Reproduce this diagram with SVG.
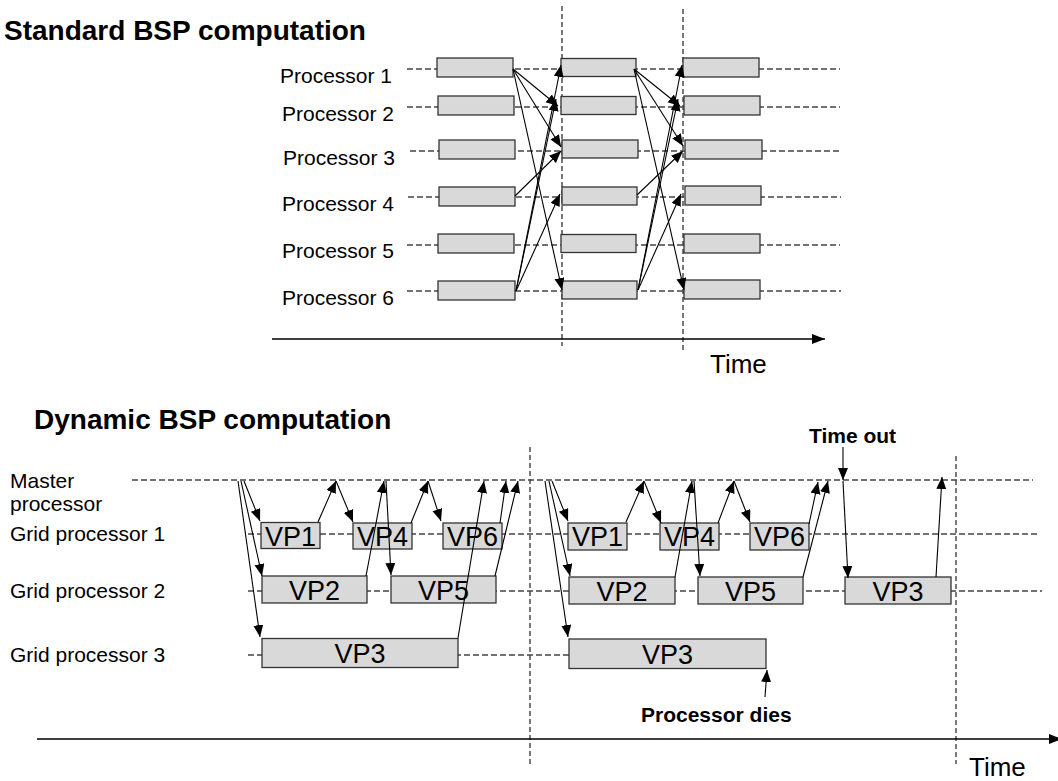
<svg xmlns="http://www.w3.org/2000/svg" width="1058" height="781" viewBox="0 0 1058 781">
  <style>
    .title { font-family: "Liberation Sans", Arial, sans-serif; font-weight: bold; font-size: 28px; fill: #000; }
    .lbl { font-family: "Liberation Sans", Arial, sans-serif; font-size: 21px; fill: #000; }
    .note { font-family: "Liberation Sans", Arial, sans-serif; font-weight: bold; font-size: 21px; fill: #000; }
    .time { font-family: "Liberation Sans", Arial, sans-serif; font-size: 26px; fill: #000; }
    .vp { font-family: "Liberation Sans", Arial, sans-serif; font-size: 27px; fill: #000; text-anchor: middle; }
    .box { fill: #d9d9d9; stroke: #333; stroke-width: 1.3; }
    .row { stroke: #444; stroke-width: 1.3; stroke-dasharray: 6 3; fill: none; }
    .sync { stroke: #222; stroke-width: 1.2; stroke-dasharray: 5 3; fill: none; }
    .msg { stroke: #000; stroke-width: 1.1; fill: none; marker-end: url(#tip); }
    .axis { stroke: #000; stroke-width: 1.3; fill: none; marker-end: url(#tipBig); }
  </style>
  <defs>
    <marker id="tip" markerUnits="userSpaceOnUse" markerWidth="13" markerHeight="11" refX="12" refY="5" orient="auto">
      <path d="M0,0 L12,5 L0,10 z" fill="#000"/>
    </marker>
    <marker id="tipBig" markerUnits="userSpaceOnUse" markerWidth="14" markerHeight="12" refX="13" refY="5" orient="auto">
      <path d="M0,0 L13,5 L0,10 z" fill="#000"/>
    </marker>
  </defs>
  <rect width="1058" height="781" fill="#fff"/>

  <!-- ===== Standard BSP ===== -->
  <text class="title" x="4" y="40">Standard BSP computation</text>

  <!-- superstep barriers and time axis -->
  <g id="std-frame">
    <line class="sync" x1="562" y1="6" x2="562" y2="346"/>
    <line class="sync" x1="683" y1="9" x2="683" y2="350"/>
    <line class="axis" x1="272" y1="339" x2="825" y2="339"/>
    <text class="time" x="710" y="373">Time</text>
  </g>

  <!-- processor timelines -->
  <g id="p1">
    <line class="row" x1="407" y1="69" x2="840" y2="69"/>
    <text class="lbl" x="280" y="83">Processor 1</text>
    <rect class="box" x="437" y="58" width="76" height="19"/>
    <rect class="box" x="561" y="58.5" width="75" height="18"/>
    <rect class="box" x="683" y="58" width="76" height="19"/>
  </g>
  <g id="p2">
    <line class="row" x1="407" y1="107" x2="840" y2="107"/>
    <text class="lbl" x="282" y="121">Processor 2</text>
    <rect class="box" x="438" y="96" width="76" height="19"/>
    <rect class="box" x="561" y="96.5" width="75" height="18"/>
    <rect class="box" x="684" y="96" width="76" height="19"/>
  </g>
  <g id="p3">
    <line class="row" x1="410" y1="151" x2="840" y2="151"/>
    <text class="lbl" x="283" y="165">Processor 3</text>
    <rect class="box" x="439" y="140" width="76" height="19"/>
    <rect class="box" x="562" y="140" width="76" height="18"/>
    <rect class="box" x="685" y="140" width="77" height="19"/>
  </g>
  <g id="p4">
    <line class="row" x1="408" y1="197" x2="841" y2="197"/>
    <text class="lbl" x="282" y="211">Processor 4</text>
    <rect class="box" x="439" y="187" width="76" height="19"/>
    <rect class="box" x="562" y="187" width="75" height="18"/>
    <rect class="box" x="685" y="186" width="76" height="19"/>
  </g>
  <g id="p5">
    <line class="row" x1="407" y1="245" x2="840" y2="245"/>
    <text class="lbl" x="282" y="258">Processor 5</text>
    <rect class="box" x="438" y="234" width="76" height="19"/>
    <rect class="box" x="561" y="234.5" width="75" height="18"/>
    <rect class="box" x="684" y="234" width="76" height="19"/>
  </g>
  <g id="p6">
    <line class="row" x1="407" y1="291" x2="841" y2="291"/>
    <text class="lbl" x="282" y="305">Processor 6</text>
    <rect class="box" x="438" y="281" width="77" height="19"/>
    <rect class="box" x="562" y="281" width="75" height="18"/>
    <rect class="box" x="684" y="280" width="76" height="19"/>
  </g>

  <!-- ===== Dynamic BSP ===== -->
  <text class="title" x="34" y="429">Dynamic BSP computation</text>

  <g id="dyn-frame">
    <line class="sync" x1="530" y1="447" x2="530" y2="765"/>
    <line class="sync" x1="956" y1="456" x2="956" y2="764"/>
    <line class="axis" x1="37" y1="739" x2="1062" y2="739"/>
    <text class="time" x="969" y="776">Time</text>
  </g>

  <g id="master">
    <line class="row" x1="132" y1="480" x2="1033" y2="480"/>
    <text class="lbl" x="10" y="488">Master</text>
    <text class="lbl" x="10" y="511">processor</text>
  </g>
  <g id="grid1">
    <line class="row" x1="248" y1="534" x2="1040" y2="534"/>
    <text class="lbl" x="10" y="541">Grid processor 1</text>
    <rect class="box" x="261" y="522.5" width="59" height="26"/>
    <text class="vp" x="290.5" y="545.5">VP1</text>
    <rect class="box" x="353" y="523" width="59" height="26"/>
    <text class="vp" x="382.5" y="545.5">VP4</text>
    <rect class="box" x="443" y="523" width="59" height="26"/>
    <text class="vp" x="472.5" y="545.5">VP6</text>
    <rect class="box" x="568" y="523" width="59" height="27"/>
    <text class="vp" x="597.5" y="546">VP1</text>
    <rect class="box" x="660" y="523" width="59" height="27"/>
    <text class="vp" x="689.5" y="546">VP4</text>
    <rect class="box" x="750" y="523" width="59" height="27"/>
    <text class="vp" x="779.5" y="546">VP6</text>
  </g>
  <g id="grid2">
    <line class="row" x1="248" y1="591" x2="1042" y2="591"/>
    <text class="lbl" x="10" y="598">Grid processor 2</text>
    <rect class="box" x="262" y="576" width="105" height="27"/>
    <text class="vp" x="314.5" y="599.5">VP2</text>
    <rect class="box" x="391" y="576" width="105" height="27"/>
    <text class="vp" x="443.5" y="599.5">VP5</text>
    <rect class="box" x="569" y="577" width="106" height="27"/>
    <text class="vp" x="622" y="600.5">VP2</text>
    <rect class="box" x="698" y="577" width="105" height="27"/>
    <text class="vp" x="750.5" y="600.5">VP5</text>
    <rect class="box" x="845" y="577" width="106" height="27"/>
    <text class="vp" x="898" y="600.5">VP3</text>
  </g>
  <g id="grid3">
    <line class="row" x1="248" y1="655" x2="569" y2="655"/>
    <text class="lbl" x="10" y="662">Grid processor 3</text>
    <rect class="box" x="262" y="638.5" width="196" height="29"/>
    <text class="vp" x="360" y="663">VP3</text>
    <rect class="box" x="569" y="639" width="197" height="29.5"/>
    <text class="vp" x="667.5" y="663.5">VP3</text>
  </g>

  <g id="notes">
    <text class="note" x="809" y="443">Time out</text>
    <text class="note" x="641" y="722">Processor dies</text>
  </g>

  <!-- messages -->
  <g id="connectors">
    <!-- superstep 1 -->
    <line class="msg" x1="513" y1="69" x2="558" y2="106"/>
    <line class="msg" x1="513" y1="69" x2="561" y2="147"/>
    <line class="msg" x1="513" y1="69" x2="562" y2="290"/>
    <line class="msg" x1="515" y1="196" x2="561" y2="151"/>
    <line class="msg" x1="516" y1="291" x2="561" y2="65"/>
    <line class="msg" x1="516" y1="291" x2="556" y2="99"/>
    <line class="msg" x1="516" y1="291" x2="560" y2="194"/>
    <!-- superstep 2 -->
    <line class="msg" x1="634" y1="69" x2="680" y2="106"/>
    <line class="msg" x1="634" y1="69" x2="683" y2="146"/>
    <line class="msg" x1="634" y1="69" x2="684" y2="290"/>
    <line class="msg" x1="637" y1="195" x2="683" y2="151"/>
    <line class="msg" x1="638" y1="290" x2="682" y2="65"/>
    <line class="msg" x1="638" y1="290" x2="678" y2="99"/>
    <line class="msg" x1="638" y1="290" x2="681" y2="194"/>

    <!-- dynamic phase 1 -->
    <line class="msg" x1="244" y1="481" x2="260" y2="521"/>
    <line class="msg" x1="241" y1="481" x2="262" y2="576"/>
    <line class="msg" x1="238" y1="481" x2="260" y2="637"/>
    <line class="msg" x1="318" y1="522" x2="336" y2="481"/>
    <line class="msg" x1="336" y1="481" x2="353" y2="522"/>
    <line class="msg" x1="411" y1="523" x2="428" y2="481"/>
    <line class="msg" x1="428" y1="481" x2="441" y2="521"/>
    <line class="msg" x1="366" y1="576" x2="384" y2="481"/>
    <line class="msg" x1="386" y1="481" x2="391" y2="575"/>
    <line class="msg" x1="458" y1="638" x2="484" y2="481"/>
    <line class="msg" x1="500" y1="523" x2="506" y2="481"/>
    <line class="msg" x1="495" y1="576" x2="518" y2="481"/>

    <!-- dynamic phase 2 -->
    <line class="msg" x1="552" y1="481" x2="568" y2="521"/>
    <line class="msg" x1="549" y1="481" x2="570" y2="576"/>
    <line class="msg" x1="545" y1="481" x2="568" y2="637"/>
    <line class="msg" x1="626" y1="522" x2="644" y2="481"/>
    <line class="msg" x1="644" y1="481" x2="661" y2="523"/>
    <line class="msg" x1="718" y1="523" x2="734" y2="481"/>
    <line class="msg" x1="734" y1="481" x2="750" y2="522"/>
    <line class="msg" x1="675" y1="577" x2="692" y2="481"/>
    <line class="msg" x1="694" y1="481" x2="700" y2="576"/>
    <line class="msg" x1="809" y1="524" x2="818" y2="482"/>
    <line class="msg" x1="803" y1="577" x2="828" y2="481"/>
    <line class="msg" x1="843" y1="447" x2="843" y2="480"/>
    <line class="msg" x1="843" y1="481" x2="848" y2="578"/>
    <line class="msg" x1="936" y1="577" x2="942" y2="477"/>
    <line class="msg" x1="765" y1="697" x2="767" y2="670"/>
  </g>
</svg>
